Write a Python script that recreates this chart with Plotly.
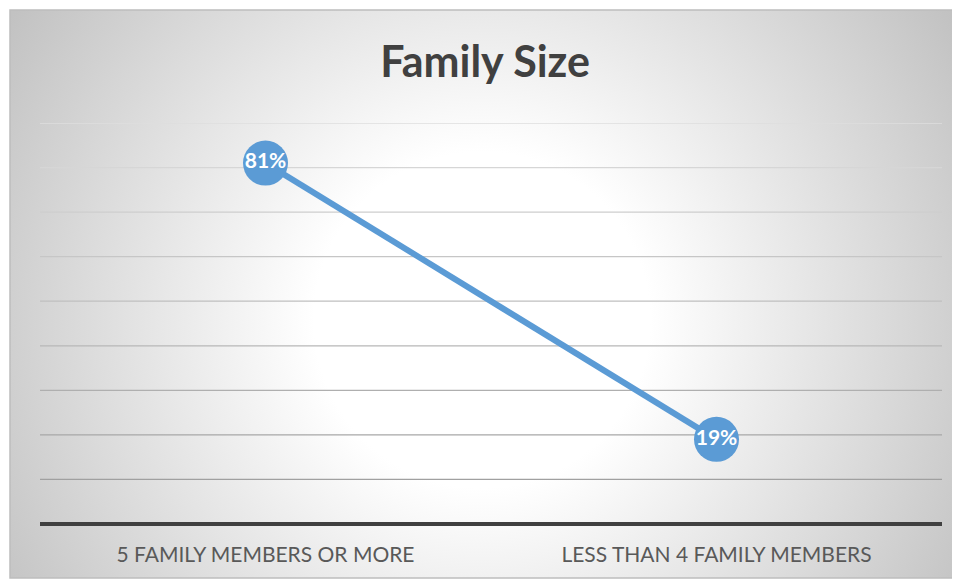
import base64
import plotly.graph_objects as go

categories = ["5 FAMILY MEMBERS OR MORE", "LESS THAN 4 FAMILY MEMBERS"]
values = [0.81, 0.19]
labels = ["81%", "19%"]
grid_values = [0.1, 0.2, 0.3, 0.4, 0.5, 0.6, 0.7, 0.8, 0.9]

OFF = 8  # default page body margin
W, H = 960 - OFF, 580 - OFF
# plot area in reference-window pixels
PX0, PX1, PY0, PY1 = 40, 942, 123, 524
L, R = PX0 - OFF, W - (PX1 - OFF)
T, B = PY0 - OFF, H - (PY1 - OFF)
pw, ph = W - L - R, H - T - B

def px_x(p):
    return (p - OFF - L) / pw

def px_y(p):
    return (H - B - (p - OFF)) / ph

bw, bh = 948, 568
svg = (
    f'<svg xmlns="http://www.w3.org/2000/svg" width="{bw}" height="{bh}" viewBox="0 0 {bw} {bh}" preserveAspectRatio="none">'
    '<defs><radialGradient id="g" cx="472" cy="310" r="560" gradientUnits="userSpaceOnUse">'
    '<stop offset="0" stop-color="#ffffff"/><stop offset="0.3" stop-color="#ffffff"/>'
    '<stop offset="1" stop-color="#c2c2c2"/></radialGradient></defs>'
    f'<rect width="{bw}" height="{bh}" fill="url(#g)"/></svg>'
)
src = "data:image/svg+xml;base64," + base64.b64encode(svg.encode()).decode()

FONT = "Lato, Open Sans, sans-serif"

fig = go.Figure()
fig.add_trace(go.Scatter(
    x=categories, y=values, mode="lines+markers+text",
    text=labels, textposition="middle center",
    textfont=dict(family=FONT, size=21, color="white", weight="bold"),
    line=dict(color="#5b9bd5", width=6),
    marker=dict(size=45, color="#5b9bd5"),
    hoverinfo="skip", showlegend=False, cliponaxis=False,
))

shapes = []
for g in grid_values:
    t = (g - grid_values[0]) / (grid_values[-1] - grid_values[0])
    c = int(0xa0 + (0xde - 0xa0) * t)
    shapes.append(dict(type="line", xref="paper", yref="y", x0=0, x1=1, y0=g, y1=g,
                       line=dict(color=f"rgb({c},{c},{c})", width=1.3), layer="below"))
shapes.append(dict(type="rect", xref="paper", yref="paper",
                   x0=px_x(10), x1=px_x(10 + bw), y0=px_y(10 + bh), y1=px_y(10),
                   line=dict(color="#bdbdbd", width=1.5), layer="below"))

fig.update_layout(
    width=W, height=H,
    margin=dict(l=L, r=R, t=T, b=B),
    paper_bgcolor="white", plot_bgcolor="rgba(0,0,0,0)",
    title=dict(text="<b>Family Size</b>", x=px_x(492), xanchor="center",
               y=1 - (62 - OFF) / H, yanchor="middle",
               font=dict(family=FONT, size=43, color="#404040")),
    images=[dict(source=src, xref="paper", yref="paper",
                 x=px_x(10), y=px_y(10), sizex=bw / pw, sizey=bh / ph,
                 sizing="stretch", xanchor="left", yanchor="top", layer="below")],
    shapes=shapes,
    xaxis=dict(showgrid=False, zeroline=False, showline=False, ticks="",
               tickfont=dict(family=FONT, size=21, color="#595959"),
               ticklabelstandoff=16, range=[-0.5, 1.5]),
    yaxis=dict(range=[0, 0.9], showgrid=False, zeroline=True, zerolinecolor="#404040",
               zerolinewidth=3.5, showticklabels=False, ticks="", showline=False),
)
fig.write_html("out.html")
